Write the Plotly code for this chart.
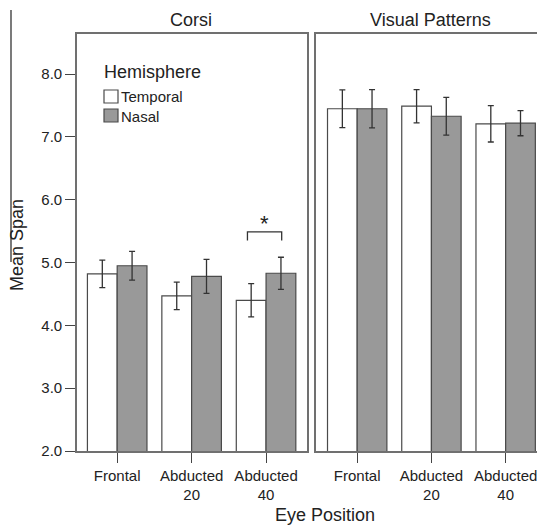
import plotly.graph_objects as go

# ---- data ----
positions = ["Frontal", "Abducted 20", "Abducted 40"]
position_labels = ["Frontal", "Abducted<br>20", "Abducted<br>40"]
hemispheres = ["Temporal", "Nasal"]

corsi_temporal = [4.82, 4.47, 4.40]
corsi_temporal_err = [0.22, 0.22, 0.265]
corsi_nasal = [4.95, 4.78, 4.83]
corsi_nasal_err = [0.23, 0.27, 0.255]

vp_temporal = [7.45, 7.49, 7.21]
vp_temporal_err = [0.30, 0.265, 0.29]
vp_nasal = [7.45, 7.33, 7.22]
vp_nasal_err = [0.305, 0.30, 0.20]

y_ticks = [2, 3, 4, 5, 6, 7, 8]
y_tick_labels = ["2.0", "3.0", "4.0", "5.0", "6.0", "7.0", "8.0"]

# ---- geometry (page has an 8px body margin) ----
OFF = 8
VW, VH = 545, 526
W, H = VW - OFF, VH - OFF
PLOT_L, PLOT_R, PLOT_T, PLOT_B = 77, 545, 34, 451   # in window pixels
ML = PLOT_L - OFF
MR = VW - PLOT_R
MT = PLOT_T - OFF
MB = VH - PLOT_B
PW = PLOT_R - PLOT_L
PH = PLOT_B - PLOT_T
FONT = "Liberation Sans, Arial, sans-serif"
fill = {"Temporal": "#ffffff", "Nasal": "#999999"}
edge = "#4a4a4a"
frame = "#707070"


def px(x):
    return (x - PLOT_L) / PW


def py(y):
    return (PLOT_B - y) / PH


fig = go.Figure()

panels = [
    ("x", "y", {"Temporal": (corsi_temporal, corsi_temporal_err),
                "Nasal": (corsi_nasal, corsi_nasal_err)}),
    ("x2", "y2", {"Temporal": (vp_temporal, vp_temporal_err),
                  "Nasal": (vp_nasal, vp_nasal_err)}),
]
for xa, ya, series in panels:
    for h in hemispheres:
        vals, errs = series[h]
        fig.add_trace(go.Bar(
            x=positions, y=vals, name=h, xaxis=xa, yaxis=ya,
            marker=dict(color=fill[h], line=dict(color=edge, width=1.2)),
            error_y=dict(type="data", array=errs, visible=True,
                         color="#333333", thickness=1.3, width=3),
            showlegend=False,
        ))

axis_common = dict(showgrid=False, zeroline=False)
tick_common = dict(ticks="outside", ticklen=10, tickcolor="#444", tickwidth=1.2,
                   tickfont=dict(size=15, color="#222"))
fig.update_layout(
    width=W, height=H,
    margin=dict(l=ML, r=MR, t=MT, b=MB, autoexpand=False),
    paper_bgcolor="white", plot_bgcolor="white",
    barmode="group", bargap=0.2, bargroupgap=0,
    font=dict(family=FONT, color="#222222"),
    xaxis=dict(domain=[0, px(307)], range=[-0.54, 2.55], anchor="y",
               tickmode="array", tickvals=positions, ticktext=position_labels,
               showline=True, mirror=True, linecolor=frame, linewidth=1.6,
               **tick_common, **axis_common),
    yaxis=dict(domain=[0, 1], range=[2, 8.64], anchor="x",
               tickmode="array", tickvals=y_ticks, ticktext=y_tick_labels,
               showline=True, mirror=True, linecolor=frame, linewidth=1.6,
               **tick_common, **axis_common),
    xaxis2=dict(domain=[px(316), 1], range=[-0.555, 2.53], anchor="y2",
                tickmode="array", tickvals=positions, ticktext=position_labels,
                showline=True, mirror=True, linecolor=frame, linewidth=1.6,
                **tick_common, **axis_common),
    yaxis2=dict(domain=[0, 1], range=[2, 8.64], anchor="x2",
                showticklabels=False, ticks="",
                showline=True, mirror=False, linecolor=frame, linewidth=1.6,
                **axis_common),
)


def note(text, x, y, size, xanchor="center", angle=0):
    return dict(text=text, x=px(x), y=py(y), xref="paper", yref="paper",
                xanchor=xanchor, yanchor="middle", showarrow=False,
                textangle=angle, font=dict(size=size, color="#222"))


ann = [
    note("Corsi", 191, 20, 18),
    note("Visual Patterns", 430, 20, 18),
    note("Eye Position", 325, 515, 18),
    note("Mean Span", 17, 245, 18, angle=-90),
    note("Hemisphere", 102, 72, 18, xanchor="left"),
    note("Temporal", 119, 97, 15, xanchor="left"),
    note("Nasal", 119, 116, 15, xanchor="left"),
    dict(text="*", x=1.98, y=5.63, xref="x", yref="y", xanchor="center",
         yanchor="middle", showarrow=False, font=dict(size=22, color="#222")),
]

shapes = [
    dict(type="rect", xref="paper", yref="paper",
         x0=px(104), x1=px(118), y0=py(103), y1=py(90),
         fillcolor=fill["Temporal"], line=dict(color=edge, width=1.2)),
    dict(type="rect", xref="paper", yref="paper",
         x0=px(104), x1=px(118), y0=py(122), y1=py(109),
         fillcolor=fill["Nasal"], line=dict(color=edge, width=1.2)),
    # significance bracket
    dict(type="path", xref="x", yref="y",
         path="M 1.75,5.35 L 1.75,5.49 L 2.21,5.49 L 2.21,5.35",
         line=dict(color="#333", width=1.3)),
    # stray vertical rule at far left of the original figure
    dict(type="line", xref="paper", yref="paper",
         x0=px(11), x1=px(11), y0=py(10), y1=py(262),
         line=dict(color="#222", width=1.2)),
]

fig.update_layout(annotations=ann, shapes=shapes)
fig.write_html("out.html")
